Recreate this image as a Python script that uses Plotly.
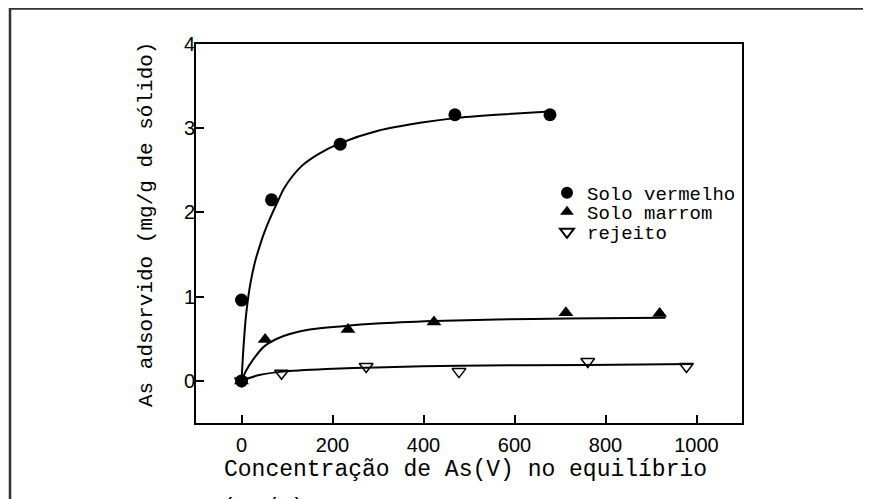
import plotly.graph_objects as go

# ---- data ----
# measured points
vermelho_x = [0, 0, 66, 217, 469, 678]
vermelho_y = [0, 0.96, 2.15, 2.81, 3.16, 3.16]
marrom_x = [0, 52, 234, 423, 713, 919]
marrom_y = [0, 0.49, 0.61, 0.70, 0.81, 0.80]
rejeito_x = [0, 88, 274, 478, 761, 978]
rejeito_y = [0, 0.09, 0.17, 0.11, 0.23, 0.17]

# fitted curves
fit_vermelho_x = [0, 5, 10, 15, 20, 30, 40, 50, 62, 77, 95, 132, 168, 216, 300, 400, 469, 560, 678]
fit_vermelho_y = [0, 0.45, 0.78, 1.0, 1.17, 1.42, 1.6, 1.76, 1.92, 2.1, 2.3, 2.55, 2.69, 2.82, 2.97, 3.07, 3.12, 3.16, 3.20]
fit_marrom_x = [0, 10, 25, 50, 91, 150, 223, 296, 423, 560, 713, 932]
fit_marrom_y = [0, 0.12, 0.25, 0.41, 0.53, 0.61, 0.65, 0.68, 0.71, 0.73, 0.74, 0.75]
fit_rejeito_x = [0, 15, 39, 91, 186, 296, 478, 761, 991]
fit_rejeito_y = [0, 0.03, 0.07, 0.11, 0.14, 0.16, 0.18, 0.19, 0.20]

names = ["Solo vermelho", "Solo marrom", "rejeito"]
x_ticks = [0, 200, 400, 600, 800, 1000]
y_ticks = [0, 1, 2, 3, 4]

x_title = "Concentração de As(V) no equilíbrio"
x_title2 = "(mg/L)"
y_title = "As adsorvido (mg/g de sólido)"

MONO = "Liberation Mono, Courier New, monospace"
SANS = "Liberation Sans, Arial, Helvetica, sans-serif"

fig = go.Figure()

for fx, fy in [(fit_vermelho_x, fit_vermelho_y), (fit_marrom_x, fit_marrom_y), (fit_rejeito_x, fit_rejeito_y)]:
    fig.add_trace(go.Scatter(x=fx, y=fy, mode="lines", line=dict(color="black", width=2, shape="spline", smoothing=0.8),
                             showlegend=False, hoverinfo="skip"))

fig.add_trace(go.Scatter(x=vermelho_x, y=vermelho_y, mode="markers", name=names[0], legend="legend",
                         marker=dict(symbol="circle", size=13, color="black")))
fig.add_trace(go.Scatter(x=marrom_x, y=marrom_y, mode="markers", name=names[1], legend="legend2",
                         marker=dict(symbol="triangle-up", size=13, color="black")))
fig.add_trace(go.Scatter(x=rejeito_x, y=rejeito_y, mode="markers", name=names[2], legend="legend3",
                         marker=dict(symbol="triangle-down-open", size=12, color="black", line=dict(width=1.5, color="black"))))

# page offset (body margin) compensation: page pixels -> figure pixels
OFF = 8
W, H = 871 - OFF, 499 - OFF
L, R, T, B = 196 - OFF, 742 - OFF, 44 - OFF, 423 - OFF
pw, ph = R - L, B - T

def px(xp):
    return (xp - OFF - L) / pw

def py(yp):
    return (B - (yp - OFF)) / ph

leg_common = dict(font=dict(family=MONO, size=19, color="black"), bgcolor="rgba(0,0,0,0)",
                  xanchor="left", yanchor="middle", borderwidth=0, itemsizing="constant")

fig.update_layout(
    width=W, height=H,
    margin=dict(l=L, r=W - R, t=T, b=H - B),
    paper_bgcolor="white", plot_bgcolor="white",
    showlegend=True,
    legend=dict(x=px(547), y=py(193), **leg_common),
    legend2=dict(x=px(547), y=py(212), **leg_common),
    legend3=dict(x=px(547), y=py(232), **leg_common),
    xaxis=dict(range=[-100, 1100], tickvals=x_ticks, ticks="inside", ticklen=8, tickwidth=1.5, tickcolor="black",
               showline=True, linecolor="black", linewidth=2, mirror=True, showgrid=False, zeroline=False,
               ticklabelstandoff=3,
               tickfont=dict(family=SANS, size=20, color="black")),
    yaxis=dict(range=[-0.5, 4], tickvals=y_ticks, ticks="inside", ticklen=8, tickwidth=1.5, tickcolor="black",
               showline=True, linecolor="black", linewidth=2, mirror=True, showgrid=False, zeroline=False,
               ticklabelstandoff=-5,
               tickfont=dict(family=SANS, size=20, color="black")),
    annotations=[
        dict(text=x_title, x=px(465), y=py(470), xref="paper", yref="paper", showarrow=False,
             xanchor="center", yanchor="middle", font=dict(family=MONO, size=23, color="black")),
        dict(text=x_title2, x=px(220), y=py(494), xref="paper", yref="paper", showarrow=False,
             xanchor="left", yanchor="top", font=dict(family=MONO, size=23, color="black")),
        dict(text=y_title, x=px(147), y=py(225), xref="paper", yref="paper", showarrow=False, textangle=-90,
             xanchor="center", yanchor="middle", font=dict(family=MONO, size=21, color="black")),
    ],
    shapes=[
        dict(type="line", xref="paper", yref="paper", x0=px(9), x1=px(890), y0=py(8.5), y1=py(8.5),
             line=dict(color="#333333", width=2.5)),
        dict(type="line", xref="paper", yref="paper", x0=px(10), x1=px(10), y0=py(8), y1=py(520),
             line=dict(color="#333333", width=2.5)),
    ],
)

fig.write_html("out.html")
